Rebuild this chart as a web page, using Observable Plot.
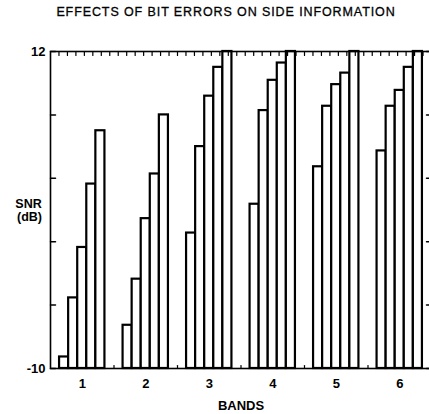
<!DOCTYPE html>
<html><head><meta charset="utf-8">
<script src="https://cdn.jsdelivr.net/npm/d3@7"></script>
<script src="https://cdn.jsdelivr.net/npm/@observablehq/plot@0.6"></script>
<style>
body{margin:0;background:#fff;overflow:hidden;}
#wrap{position:relative;width:429px;height:414px;overflow:hidden;font-family:"Liberation Sans",Arial,sans-serif;color:#000;}
#title{position:absolute;top:5px;left:0;width:452px;text-align:center;font-size:12.5px;letter-spacing:0.9px;line-height:14px;-webkit-text-stroke:0.3px #000;}
#chart{position:absolute;top:0;left:0;width:440px;}
#chart svg{max-width:none !important;width:440px !important;height:414px !important;}
</style></head><body>
<div id="wrap"><div id="chart"></div><div id="title">EFFECTS OF BIT ERRORS ON SIDE INFORMATION</div></div>
<script>
// Categories (bands) and the five bars drawn in each band (SNR, dB)
const bands = [1, 2, 3, 4, 5, 6];
const band1 = [-9.2, -5.1, -1.6, 2.8, 6.5];
const band2 = [-7.0, -3.8, 0.4, 3.5, 7.6];
const band3 = [-0.6, 5.4, 8.9, 10.9, 12];
const band4 = [1.4, 7.9, 10.0, 11.2, 12];
const band5 = [4.0, 8.2, 9.7, 10.5, 12];
const band6 = [5.1, 8.2, 9.3, 10.9, 12];
const yTickValues = [-10, -5.6, -1.2, 3.2, 7.6, 12];
const yTickLabels = [-10, 12];
const yMin = -10, yMax = 12;
const slotsPerBand = 7; // bars occupy slots 1..5 of 7 in each band
const topMinorTicks = 45; // minor ticks along the top edge

const bandValues = [band1, band2, band3, band4, band5, band6];
const rows = [];
bands.forEach((b, bi) => bandValues[bi].forEach((v, i) => rows.push({band: b, slot: i, value: v})));

const xLo = bands[0] - 0.5, xHi = bands[bands.length - 1] + 0.5;
const topTicks = d3.range(1, topMinorTicks).map(i => xLo + i * (xHi - xLo) / topMinorTicks);
const bandEdges = bands.slice(0, -1).map(b => b + 0.5);

const tickShape = {draw(context, l) { context.moveTo(0, 0); context.lineTo(0, -l); }};

const chart = Plot.plot({
  width: 440,
  height: 414,
  marginLeft: 50,
  marginRight: 9,
  marginTop: 51,
  marginBottom: 46,
  x: {domain: [xLo, xHi]},
  y: {domain: [yMin, yMax]},
  style: {fontFamily: "'Liberation Sans', Arial, sans-serif", fontSize: "13px", fontWeight: "bold", color: "black", background: "white", maxWidth: "none"},
  marks: [
    Plot.rect(rows, {
      x1: d => d.band - 0.5 + (d.slot + 1) / slotsPerBand,
      x2: d => d.band - 0.5 + (d.slot + 2) / slotsPerBand,
      y1: yMin,
      y2: "value",
      fill: "white",
      stroke: "black",
      strokeWidth: 2.2
    }),
    Plot.frame({stroke: "black", strokeWidth: 1.6}),
    Plot.vector(yTickValues, {y: d => d, frameAnchor: "left", rotate: 90, length: 5, anchor: "start", shape: tickShape, stroke: "black", strokeWidth: 1.5}),
    Plot.vector(yTickValues, {y: d => d, frameAnchor: "right", rotate: -90, length: 5, anchor: "start", shape: tickShape, stroke: "black", strokeWidth: 1.5}),
    Plot.vector(topTicks, {x: d => d, frameAnchor: "top", rotate: 180, length: 4, anchor: "start", shape: tickShape, stroke: "black", strokeWidth: 1.2}),
    Plot.vector(bandEdges, {x: d => d, frameAnchor: "bottom", rotate: 0, length: 3, anchor: "start", shape: tickShape, stroke: "black", strokeWidth: 1.2}),
    Plot.axisY({ticks: yTickLabels, tickSize: 0, tickPadding: 5, tickFormat: d => String(d), label: null, fontSize: 13}),
    Plot.axisX({ticks: bands, tickSize: 0, tickPadding: 10, tickFormat: d => String(d), label: null, fontSize: 13}),
    Plot.text(["SNR"], {text: d => d, frameAnchor: "left", dx: -22, dy: -6.5, textAnchor: "middle", lineAnchor: "middle", fontSize: 12.5}),
    Plot.text(["(dB)"], {text: d => d, frameAnchor: "left", dx: -21, dy: 7, textAnchor: "middle", lineAnchor: "middle", fontSize: 12.5}),
    Plot.text(["BANDS"], {text: d => d, frameAnchor: "bottom", dy: 37, lineAnchor: "middle", fontSize: 13})
  ]
});
document.getElementById("chart").append(chart);
</script>
</body></html>
